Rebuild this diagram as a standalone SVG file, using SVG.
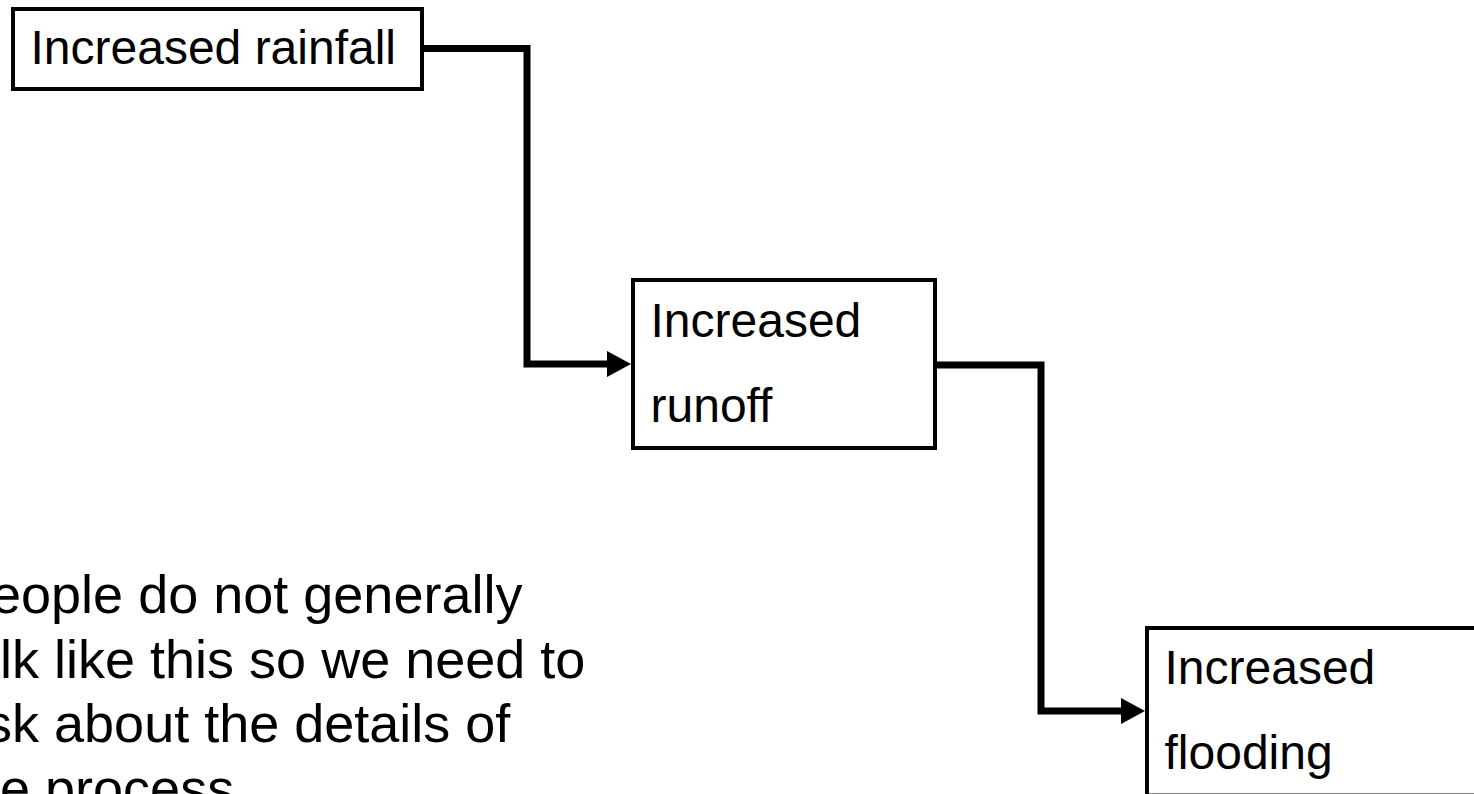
<svg xmlns="http://www.w3.org/2000/svg" width="1474" height="794" viewBox="0 0 1474 794">
  <style>
    .box { fill: #ffffff; stroke: #000000; stroke-width: 4; }
    .lbl { font-family: "Liberation Sans", Arial, sans-serif; font-size: 48px; fill: #000000; }
    .body { font-family: "Liberation Sans", Arial, sans-serif; font-size: 54px; fill: #000000; }
    .conn { fill: none; stroke: #000000; stroke-width: 7; stroke-linejoin: miter; stroke-linecap: butt; }
  </style>
  <defs>
    <marker id="arrow" markerUnits="userSpaceOnUse" markerWidth="26" markerHeight="28" refX="1" refY="13" orient="auto">
      <path d="M0,0 L24,13 L0,26 Z" fill="#000000"/>
    </marker>
  </defs>
  <rect x="0" y="0" width="1474" height="794" fill="#ffffff"/>

  <g id="connectors">
    <path class="conn" d="M424,48.5 H527 V364 H608" marker-end="url(#arrow)"/>
    <path class="conn" d="M937,365 H1041 V711 H1122" marker-end="url(#arrow)"/>
  </g>

  <g id="node-rainfall">
    <rect class="box" x="13" y="9" width="409" height="80"/>
    <text class="lbl" x="30.5" y="64">Increased rainfall</text>
  </g>

  <g id="node-runoff">
    <rect class="box" x="633" y="280" width="302" height="168"/>
    <text class="lbl" x="650.5" y="337">Increased</text>
    <text class="lbl" x="650.5" y="422">runoff</text>
  </g>

  <g id="node-flooding">
    <rect class="box" x="1147" y="628" width="340" height="167.5"/>
    <text class="lbl" x="1164.5" y="684">Increased</text>
    <text class="lbl" x="1164.5" y="769">flooding</text>
  </g>

  <g id="note">
    <text class="body" x="-45" y="613">People do not generally</text>
    <text class="body" x="-45" y="677.5">talk like this so we need to</text>
    <text class="body" x="-45" y="742">ask about the details of</text>
    <text class="body" x="-45" y="806.5">the process</text>
  </g>
</svg>
